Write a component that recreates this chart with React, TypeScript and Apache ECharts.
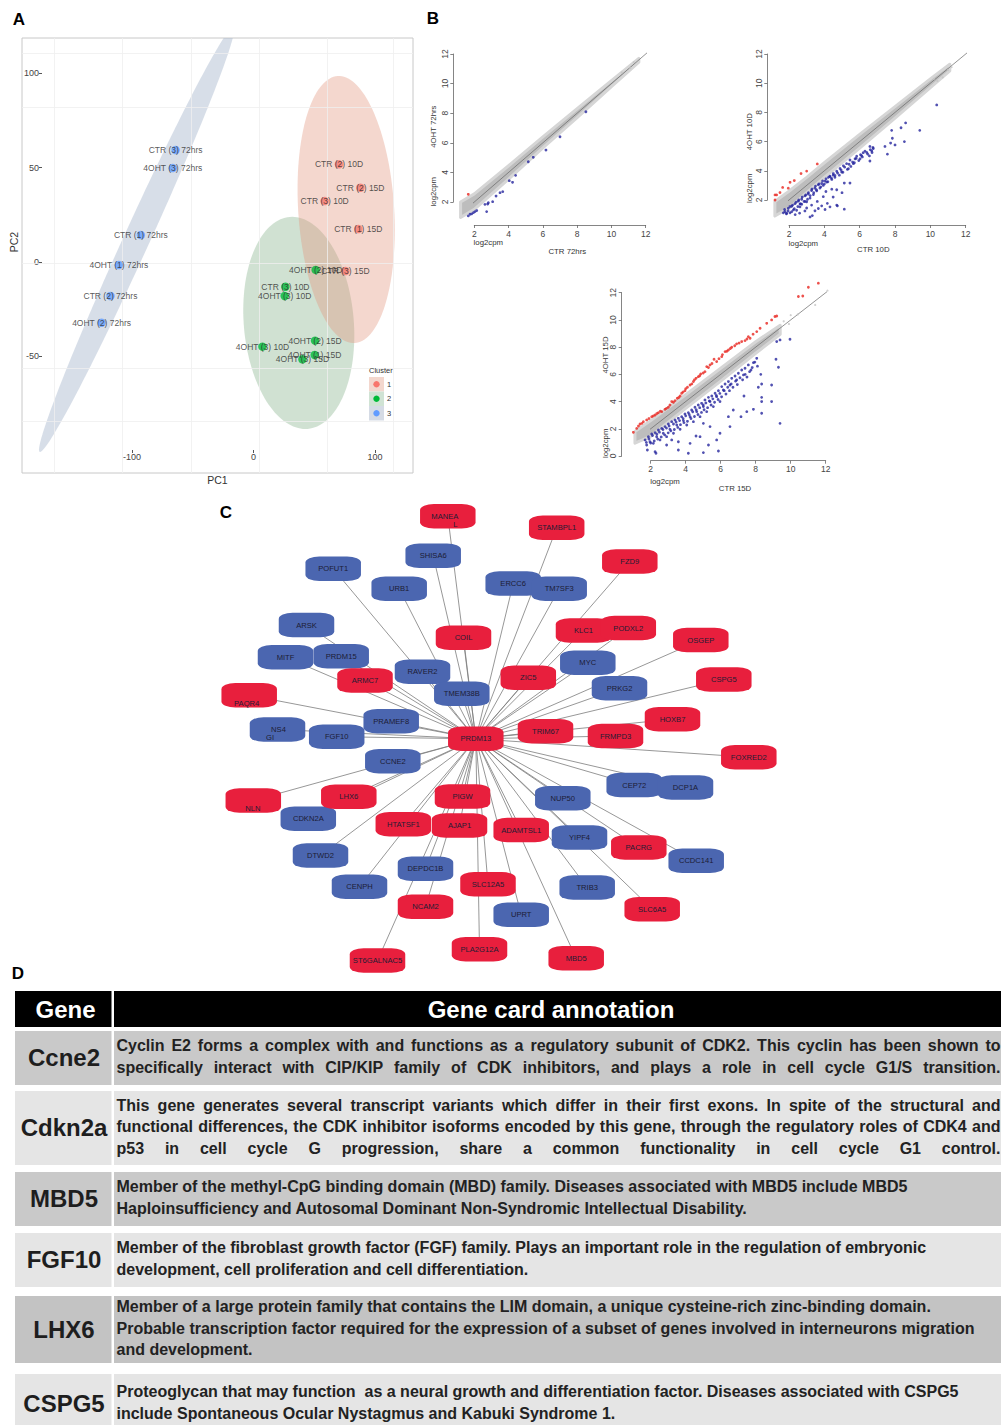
import React, { useEffect, useRef } from 'react';
import * as echarts from 'echarts';

const FONT = '"Liberation Sans", Arial, Helvetica, sans-serif';

// ---------------- Panel A : PCA ----------------
const pcaXTicks = [-100, 0, 100];
const pcaYTicks = [-50, 0, 50, 100];
const clusterColors = ['#F8766D', '#00BA38', '#619CFF'];
const c1Labels = ['CTR (2) 10D', 'CTR (2) 15D', 'CTR (3) 10D', 'CTR (1) 15D', 'CTR (3) 15D'];
const c1PC1 = [70.4, 88.0, 58.6, 86.3, 75.7];
const c1PC2 = [51.8, 39.4, 32.3, 17.5, -4.8];
const c2Labels = ['4OHT (2) 10D', 'CTR (3) 10D', '4OHT (3) 10D', '4OHT (3) 10D', '4OHT (2) 15D', '4OHT (1) 15D', '4OHT (3) 15D'];
const c2PC1 = [51.2, 26.3, 25.7, 7.4, 50.7, 50.4, 40.3];
const c2PC2 = [-4.2, -13.1, -18.0, -44.9, -41.7, -49.3, -51.6];
const c3Labels = ['CTR (3) 72hrs', '4OHT (3) 72hrs', 'CTR (1) 72hrs', '4OHT (1) 72hrs', 'CTR (2) 72hrs', '4OHT (2) 72hrs'];
const c3PC1 = [-64.1, -66.4, -92.7, -110.8, -117.7, -125.0];
const c3PC2 = [59.4, 49.8, 14.3, -1.6, -18.0, -32.2];
// ellipses: centre and two conjugate semi-axes (PC units), cluster 3, 2, 1
const ellipseCentre = [[-96.1, 12.0], [37.3, -32.3], [76.3, 27.8]];
const ellipseAxisU = [[79.8, 112.7], [-7.4, 56.2], [-7.0, 70.8]];
const ellipseAxisV = [[9.7, -2.86], [45.1, 2.47], [39.4, 1.6]];
const ellipseFills = ['rgba(160,176,200,0.42)', 'rgba(125,172,130,0.36)', 'rgba(226,150,125,0.38)'];
const pcaGridX = [-164, -107.7, -51.6, 4.6, 60.9, 114.8];
const pcaGridY = [110.7, 82.3, -0.7, -56.4, -84.7];

// ---------------- Panel B : log2cpm scatter ----------------
// 72 hrs
const b1BandX = [1.2, 2, 4, 6, 8, 10, 11.6];
const b1BandUp = [2.0, 2.55, 4.45, 6.4, 8.3, 10.2, 11.7];
const b1BandLow = [0.95, 1.5, 3.55, 5.65, 7.7, 9.8, 11.45];
const b1Down = [[8.51, 8.10], [7.0, 6.41], [6.18, 5.51], [5.44, 5.02], [5.15, 4.72], [4.41, 3.80], [4.04, 3.44], [4.23, 3.33], [3.66, 2.70], [3.5, 2.63], [3.27, 2.40], [3.07, 2.02], [2.78, 1.86], [2.62, 1.84], [2.82, 1.95], [2.72, 1.35], [2.14, 1.42], [2.04, 1.35], [1.95, 1.28], [1.75, 1.17], [1.65, 1.06], [1.85, 1.20]];
const b1Up = [[1.65, 2.52]];
const b1Grey = [[11.3, 11.45], [11.1, 11.05], [10.6, 10.75]];
const b1Diag = [0.87, 13.1];
// 10 D
const b2BandX = [1.2, 2, 3, 4, 6, 8, 10, 11.1];
const b2BandUp = [1.9, 2.6, 3.55, 4.55, 6.5, 8.4, 10.3, 11.3];
const b2BandLow = [0.9, 1.45, 2.5, 3.55, 5.55, 7.6, 9.7, 10.85];
const b2Down = [[10.36, 8.51], [9.40, 6.77], [8.6, 7.28], [8.34, 6.95], [7.81, 6.77], [8.53, 6.0], [7.85, 6.23], [7.75, 5.9], [8.0, 5.77], [7.43, 5.67], [7.57, 5.14], [6.77, 5.53], [6.68, 5.37], [6.58, 5.67], [6.55, 5.02], [6.4, 5.26], [6.58, 4.67], [6.2, 5.24], [6.11, 5.04], [5.83, 5.0], [5.74, 4.82], [5.45, 4.74], [5.26, 4.49], [5.08, 4.34], [4.89, 4.16], [4.70, 3.97], [4.51, 3.81], [4.32, 3.63], [4.23, 3.55], [4.04, 3.31], [3.85, 3.13], [3.66, 3.04], [3.47, 2.81], [3.28, 2.65], [3.09, 2.41], [2.91, 2.28], [2.72, 2.05], [2.53, 1.92], [2.34, 1.75], [2.15, 1.57], [1.96, 1.43], [1.77, 1.20], [1.68, 1.12], [1.87, 1.09], [2.06, 1.12], [2.25, 1.32], [2.43, 1.30], [2.62, 1.53], [2.72, 1.71], [2.91, 1.9], [3.19, 2.13], [3.38, 2.37], [3.57, 2.63], [3.75, 2.82], [3.94, 3.0], [4.13, 3.23], [4.42, 3.41], [4.60, 3.68], [4.98, 3.91], [5.36, 4.14], [5.64, 4.49], [6.02, 4.82], [3.19, 0.84], [3.47, 1.26], [3.66, 1.42], [4.04, 1.35], [4.32, 1.53], [4.70, 1.65], [5.13, 3.16], [5.45, 3.16], [4.74, 1.60], [5.13, 1.37], [4.17, 1.77], [3.32, 0.93], [3.0, 1.88], [3.28, 1.65], [2.62, 1.72], [4.42, 2.74], [4.70, 2.70], [3.94, 2.23], [4.09, 2.58],
  [1.75, 1.35], [1.85, 1.05], [1.95, 1.25], [2.05, 1.55], [2.15, 1.2], [2.2, 1.65], [2.3, 1.4], [2.4, 1.85], [2.5, 1.55], [2.55, 2.0], [2.65, 1.75], [2.75, 2.2], [2.85, 1.9], [2.95, 2.35], [3.05, 2.05], [3.1, 2.5], [3.2, 2.3], [3.3, 2.75], [3.4, 2.5], [3.5, 2.95], [3.55, 2.7], [3.7, 3.1], [3.8, 2.9], [3.9, 3.3], [4.0, 3.1], [4.1, 3.45], [4.2, 3.25], [4.3, 3.6], [4.4, 3.5], [4.5, 3.7], [4.6, 3.55], [4.75, 3.85], [4.85, 3.7], [4.95, 4.05], [5.05, 3.9], [5.15, 4.25], [5.3, 4.1], [5.4, 4.45], [5.5, 4.3], [5.6, 4.6], [5.7, 4.55], [5.8, 4.85], [5.95, 4.7], [6.05, 5.1], [6.15, 4.95], [6.3, 5.35], [6.45, 5.15], [6.6, 5.45], [6.7, 5.25], [6.75, 5.6], [2.6, 1.1], [3.0, 1.45], [3.6, 1.9], [3.85, 1.6], [2.35, 1.0], [2.9, 1.25], [4.5, 2.2], [5.0, 2.5]];
const b2Up = [[1.21, 2.0], [1.30, 2.35], [1.49, 2.51], [1.64, 2.86], [1.96, 2.81], [2.06, 3.21], [2.30, 3.33], [2.68, 3.81], [3.0, 3.98], [3.60, 4.47], [1.21, 2.35]];
const b2Grey = [[10.4, 10.15], [10.7, 10.4], [11.0, 10.9], [10.2, 10.3], [11.2, 11.1]];
const b2Diag = [1.2, 12.3];
// 15 D
const b3BandX = [1.1, 2, 4, 6, 8, 9.4];
const b3BandUp = [1.8, 2.6, 4.5, 6.45, 8.4, 9.6];
const b3BandLow = [0.95, 1.45, 3.5, 5.5, 7.55, 8.95];
const b3Grey = [[9.6, 9.9], [10.0, 10.35], [10.4, 10.4], [11.4, 11.1], [12.1, 12.15], [9.9, 9.7]];
const b3Up = [[1.01, 1.74], [1.2, 2.03], [1.39, 2.35], [1.58, 2.52], [1.77, 2.65], [2.06, 2.89], [2.25, 3.01], [2.44, 3.19], [2.63, 3.26], [2.82, 3.43], [3.01, 3.58], [3.2, 4.0], [3.39, 4.07], [3.52, 4.24], [3.68, 4.41], [3.77, 4.61], [3.96, 4.80], [4.10, 5.05], [4.25, 5.22], [4.44, 5.47], [4.59, 5.71], [4.72, 5.83], [4.86, 6.03], [5.10, 6.2], [5.2, 6.57], [5.39, 6.69], [5.62, 7.11], [5.77, 6.94], [6.06, 7.30], [6.25, 7.67], [6.44, 7.79], [6.63, 7.99], [6.91, 8.24], [7.2, 8.41], [7.39, 8.48], [7.58, 8.77], [7.68, 8.65], [8.06, 9.14], [8.25, 9.39], [8.63, 9.75], [8.91, 10.0], [9.10, 10.25], [9.2, 10.29], [10.44, 11.72], [10.69, 11.76], [11.01, 12.4], [11.58, 12.7],
  [1.3, 2.2], [1.5, 2.4], [1.9, 2.75], [2.15, 2.95], [2.35, 3.12], [2.55, 3.3], [2.9, 3.5], [3.1, 3.75], [3.3, 3.95], [3.6, 4.3], [3.85, 4.7], [4.0, 4.95], [4.35, 5.3], [4.5, 5.6], [4.8, 5.9], [5.0, 6.1], [5.3, 6.5], [5.5, 6.8], [5.9, 7.15], [6.1, 7.45], [6.35, 7.7], [6.55, 7.9], [6.8, 8.1], [7.05, 8.3], [7.5, 8.6], [7.85, 8.95]];
const b3Down = [[1.68, 1.18], [1.87, 1.42], [2.06, 1.62], [2.25, 1.72], [2.44, 1.91], [2.63, 2.03], [2.82, 2.16], [3.01, 2.35], [3.2, 2.52], [3.39, 2.65], [3.58, 2.77], [3.77, 2.89], [3.96, 3.09], [4.15, 3.19], [4.34, 3.38], [4.53, 3.58], [4.72, 3.75], [4.91, 3.87], [5.10, 4.12], [5.30, 4.31], [5.49, 4.41], [5.68, 4.61], [5.87, 4.80], [6.06, 5.10], [6.25, 5.29], [6.44, 5.47], [6.63, 5.71], [6.82, 5.88], [7.01, 6.08], [7.2, 6.32], [7.39, 6.45], [7.58, 6.69], [7.87, 6.86], [8.06, 7.18], [7.73, 6.32], [7.30, 5.96], [6.91, 5.59], [6.53, 5.22], [6.15, 4.85], [5.77, 4.36], [5.39, 4.0], [5.01, 3.63], [4.63, 3.26], [4.25, 2.89], [3.87, 2.60], [3.49, 2.28], [3.10, 1.96], [2.72, 1.67], [2.34, 1.42], [1.96, 1.05], [1.77, 0.81], [2.15, 0.93], [2.53, 1.18], [2.91, 1.42], [3.30, 1.67], [3.68, 1.96], [4.06, 2.28], [4.44, 2.52], [4.82, 2.89], [5.20, 3.26], [5.58, 3.63], [5.96, 4.0], [9.39, 8.53], [9.2, 8.41], [9.96, 8.58], [9.16, 7.11], [9.30, 6.52], [8.91, 5.22], [8.29, 6.0], [8.34, 5.29], [8.15, 5.05], [8.34, 4.31], [7.33, 4.41], [7.87, 3.43], [8.34, 4.0], [8.34, 3.14], [7.49, 3.26], [6.72, 3.38], [6.44, 2.89], [5.96, 1.67], [5.39, 2.16], [5.01, 2.40], [5.77, 1.18], [4.82, 1.42], [4.25, 0.93], [3.58, 0.44], [2.91, 0.81], [2.25, 0.32], [1.81, 0.44], [2.30, 0.2], [5.30, 0.81], [4.15, 0.2], [5.01, 0.25], [5.87, 0.37], [3.58, 1.05], [3.2, 1.18], [4.59, 1.47], [9.39, 2.40], [7.16, 2.89], [6.53, 2.16], [8.91, 4.0],
  [1.75, 1.0], [1.9, 1.25], [2.0, 0.95], [2.1, 1.5], [2.2, 1.1], [2.35, 1.6], [2.4, 1.25], [2.5, 1.75], [2.6, 1.4], [2.7, 1.95], [2.8, 1.55], [2.9, 2.05], [3.0, 1.7], [3.05, 2.2], [3.15, 1.85], [3.3, 2.35], [3.35, 1.95], [3.45, 2.5], [3.55, 2.1], [3.65, 2.6], [3.7, 2.3], [3.85, 2.75], [3.9, 2.45], [4.0, 2.95], [4.1, 2.55], [4.2, 3.05], [4.3, 2.75], [4.4, 3.25], [4.5, 2.9], [4.6, 3.4], [4.7, 3.05], [4.8, 3.55], [4.9, 3.2], [5.0, 3.75], [5.05, 3.4], [5.15, 3.9], [5.25, 3.55], [5.35, 4.05], [5.45, 3.75], [5.55, 4.2], [5.65, 3.95], [5.75, 4.45], [5.85, 4.15], [5.95, 4.6], [6.05, 4.35], [6.2, 4.8], [6.3, 4.55], [6.4, 5.05], [6.5, 4.8], [6.6, 5.3], [6.7, 5.05], [6.85, 5.5], [6.95, 5.25], [7.1, 5.75], [7.25, 5.6], [7.4, 6.0], [7.5, 5.8], [7.65, 6.2], [7.8, 6.5], [7.95, 6.9], [8.1, 6.6]];
const b3Diag = [1.0, 12.2];

// ---------------- Panel C : network ----------------
const hubGene = 'PRDM13';
const netGenes = ['PRDM13', 'MANEAL', 'SHISA6', 'POFUT1', 'URB1', 'ERCC6', 'TM7SF3', 'STAMBPL1', 'FZD9', 'ARSK', 'COIL', 'MITF', 'PRDM15', 'RAVER2', 'TMEM38B', 'ARMC7', 'PAQR4', 'KLC1', 'PODXL2', 'OSGEP', 'MYC', 'PRKG2', 'ZIC5', 'CSPG5', 'PRAMEF8', 'GINS4', 'FGF10', 'HOXB7', 'TRIM67', 'FRMPD3', 'FOXRED2', 'CCNE2', 'NLN', 'CDKN2A', 'LHX6', 'PIGW', 'HTATSF1', 'AJAP1', 'DTWD2', 'DEPDC1B', 'CENPH', 'SLC12A5', 'NCAM2', 'PLA2G12A', 'ST6GALNAC5', 'CEP72', 'DCP1A', 'NUP50', 'ADAMTSL1', 'YIPF4', 'PACRG', 'CCDC141', 'TRIB3', 'SLC6A5', 'UPRT', 'MBD5'];
const netLayoutX = [475.8, 447.8, 433.2, 333.2, 399.2, 513.2, 559.2, 556.7, 629.8, 306.5, 463.5, 285.5, 341.2, 422.5, 461.8, 365, 249.2, 583.5, 628.3, 700.8, 587.8, 619.5, 528.3, 723.8, 391.2, 277.5, 336.7, 672.5, 545.5, 615.5, 748.8, 392.8, 253.3, 308.3, 348.8, 462.5, 403.3, 459.5, 320.5, 425.5, 359.5, 488, 425.5, 479.5, 377.5, 634.2, 685.5, 562.8, 521.2, 579.5, 638.8, 696.2, 587.2, 652.2, 521.2, 576.2];
const netLayoutY = [738.8, 516.2, 555.8, 568.7, 588.8, 583.5, 588.8, 527.8, 561.5, 625, 637.8, 657.2, 656.2, 671.7, 693.8, 680.5, 695.3, 630.5, 628, 640, 662.8, 688.3, 677.8, 679.5, 721.2, 729.5, 736.7, 719.2, 731.2, 736, 757.2, 761.2, 800.5, 818.8, 796.7, 796.5, 824.2, 825.5, 855.5, 868.8, 886.7, 884.3, 906.7, 949.2, 960.5, 785, 787.5, 798.2, 830, 837.5, 847.5, 860.8, 887.5, 909.2, 914.8, 958.3];
const netUp = [1, 1, 0, 0, 0, 0, 0, 1, 1, 0, 1, 0, 0, 0, 0, 1, 1, 1, 1, 1, 0, 0, 1, 1, 0, 0, 0, 1, 1, 1, 1, 0, 1, 0, 1, 1, 1, 1, 0, 0, 0, 1, 1, 1, 1, 0, 0, 0, 1, 0, 1, 0, 0, 1, 0, 1];

// ---------------- Panel D : table ----------------
const tableHeader = ['Gene', 'Gene card annotation'];
const tableGenes = ['Ccne2', 'Cdkn2a', 'MBD5', 'FGF10', 'LHX6', 'CSPG5'];
const tableLines = [
  ['Cyclin E2 forms a complex with and functions as a regulatory subunit of CDK2. This cyclin has been shown to',
    'specifically interact with CIP/KIP family of CDK inhibitors, and plays a role in cell cycle G1/S transition.'],
  ['This gene generates several transcript variants which differ in their first exons. In spite of the structural and',
    'functional differences, the CDK inhibitor isoforms encoded by this gene, through the regulatory roles of CDK4 and',
    'p53 in cell cycle G progression, share a common functionality in cell cycle G1 control.'],
  ['Member of the methyl-CpG binding domain (MBD) family. Diseases associated with MBD5 include MBD5',
    'Haploinsufficiency and Autosomal Dominant Non-Syndromic Intellectual Disability.'],
  ['Member of the fibroblast growth factor (FGF) family. Plays an important role in the regulation of embryonic',
    'development, cell proliferation and cell differentiation.'],
  ['Member of a large protein family that contains the LIM domain, a unique cysteine-rich zinc-binding domain.',
    'Probable transcription factor required for the expression of a subset of genes involved in interneurons migration',
    'and development.'],
  ['Proteoglycan that may function  as a neural growth and differentiation factor. Diseases associated with CSPG5',
    'include Spontaneous Ocular Nystagmus and Kabuki Syndrome 1.'],
];
const tableJustified = [[true, true], [true, true, true], [false, false], [false, false], [false, false, false], [false, false]];

// ---------------- helpers ----------------
let measureCtx: any = null;
function measure(s: string, font: string) {
  if (!measureCtx) measureCtx = document.createElement('canvas').getContext('2d');
  measureCtx.font = font;
  return measureCtx.measureText(s).width;
}

function text(t: string, x: number, y: number, size: number, o: any = {}) {
  const style: any = {
    text: t,
    fontSize: size,
    fontFamily: FONT,
    fontWeight: o.weight || 'normal',
    fill: o.fill || '#333',
    textAlign: o.align || 'center',
    align: o.align || 'center',
    textVerticalAlign: 'middle',
    verticalAlign: 'middle',
  };
  const el: any = { type: 'text', x, y, style, silent: true, z: 10 };
  if (o.rotation) el.rotation = o.rotation;
  return el;
}

function bandSeries(gi: number, bx: number[], bu: number[], bl: number[]) {
  return {
    type: 'custom', xAxisIndex: gi, yAxisIndex: gi, clip: false, silent: true, z: 2,
    data: [[bx[0], bu[0]]],
    renderItem: (_p: any, api: any) => {
      const pts: number[][] = [];
      for (let k = 0; k < bx.length; k++) pts.push(api.coord([bx[k], bu[k]]));
      for (let k = bx.length - 1; k >= 0; k--) pts.push(api.coord([bx[k], bl[k]]));
      return { type: 'polygon', shape: { points: pts }, style: { fill: '#bdbdbd', stroke: '#d6d6d6', lineWidth: 3, lineJoin: 'round' } };
    },
  };
}

function scatterSeries(gi: number, data: number[][], color: string, size = 2.8) {
  return { type: 'scatter', xAxisIndex: gi, yAxisIndex: gi, clip: false, silent: true, z: 4, symbolSize: size, itemStyle: { color }, data };
}

function diagSeries(gi: number, ends: number[]) {
  return {
    type: 'line', xAxisIndex: gi, yAxisIndex: gi, clip: false, silent: true, z: 3, symbol: 'none',
    lineStyle: { color: '#666', width: 0.7 }, data: [[ends[0], ends[0]], [ends[1], ends[1]]],
  };
}

function bAxes(gi: number, ymin: number, xOff: number, yOff: number) {
  const common = {
    gridIndex: gi, type: 'value', max: 12, interval: 2,
    axisLine: { show: true, onZero: false, lineStyle: { color: '#666', width: 0.8 } },
    axisTick: { show: true, length: 3, lineStyle: { color: '#666', width: 0.8 } },
    splitLine: { show: false },
  };
  return {
    x: { ...common, min: 2, offset: xOff, axisLabel: { fontSize: 8.5, color: '#444', margin: 4, fontFamily: FONT } },
    y: { ...common, min: ymin, offset: yOff, axisLabel: { fontSize: 8.5, color: '#444', margin: 4, rotate: 90, fontFamily: FONT } },
  };
}

function buildOption() {
  const b1 = bAxes(1, 2, 23, 21);
  const b2 = bAxes(2, 2, 25, 21.7);
  const b3 = bAxes(3, 0, 4.7, 29);

  const pcaSeries = [
    { labels: c1Labels, x: c1PC1, y: c1PC2, color: clusterColors[0] },
    { labels: c2Labels, x: c2PC1, y: c2PC2, color: clusterColors[1] },
    { labels: c3Labels, x: c3PC1, y: c3PC2, color: clusterColors[2] },
  ].map((c) => ({
    type: 'scatter', xAxisIndex: 0, yAxisIndex: 0, z: 5, silent: true,
    symbolSize: 8.5, itemStyle: { color: c.color },
    label: { show: true, position: 'inside', formatter: '{b}', fontSize: 8.5, color: '#2b2b2b', fontFamily: FONT },
    data: c.labels.map((l, i) => ({ name: l, value: [c.x[i], c.y[i]] })),
  }));

  const nodes = netGenes.map((g, i) => {
    const item: any = {
      name: g, value: [netLayoutX[i], netLayoutY[i]],
      itemStyle: { color: netUp[i] ? '#e81f3d' : '#4b66b0' },
    };
    if (g === 'MANEAL') item.label = { formatter: 'MANEA\n          L', offset: [-3, 4.5] };
    if (g === 'GINS4') item.label = { formatter: 'NS4\nGI        ', offset: [1, 4] };
    if (g === 'PAQR4') item.label = { offset: [-2.5, 8] };
    if (g === 'NLN') item.label = { offset: [-0.5, 8] };
    return item;
  });
  const hubIndex = netGenes.indexOf(hubGene);
  const links = netGenes.map((_g, i) => ({ source: i, target: hubIndex })).filter((l) => l.source !== hubIndex);

  // ---- graphic: labels, legend, table ----
  const g: any[] = [];
  g.push(text('A', 19, 19, 17, { weight: 'bold', fill: '#000' }));
  g.push(text('B', 433, 18, 17, { weight: 'bold', fill: '#000' }));
  g.push(text('C', 226, 512, 17, { weight: 'bold', fill: '#000' }));
  g.push(text('D', 18, 973, 17, { weight: 'bold', fill: '#000' }));
  g.push(text('PC1', 217.5, 480, 10.5, { fill: '#333' }));
  g.push(text('PC2', 13.5, 242, 10.5, { fill: '#333', rotation: Math.PI / 2 }));
  // legend of panel A
  g.push(text('Cluster', 369, 370.5, 7.5, { align: 'left' }));
  const keyFill = ['#f3d7ce', '#d0e3d4', '#d5dbe5'];
  ['1', '2', '3'].forEach((k, i) => {
    const y0 = 377 + i * 14.5;
    g.push({ type: 'rect', shape: { x: 369, y: y0, width: 15, height: 14.5 }, style: { fill: keyFill[i] }, silent: true, z: 9 });
    g.push({ type: 'circle', shape: { cx: 376.5, cy: y0 + 7.2, r: 3.2 }, style: { fill: clusterColors[i] }, silent: true, z: 10 });
    g.push(text(k, 387, y0 + 7.4, 7.5, { align: 'left' }));
  });
  // panel B axis titles
  const bTitles = [
    ['4OHT 72hrs', 433.3, 126.7, 'log2cpm', 433.3, 191.7, 'log2cpm', 488.3, 242.5, 'CTR 72hrs', 567.3, 251],
    ['4OHT 10D', 749, 131.7, 'log2cpm', 749, 188.3, 'log2cpm', 803.3, 243, 'CTR 10D', 873.3, 249.3],
    ['4OHT 15D', 605, 355, 'log2cpm', 605, 443.3, 'log2cpm', 665, 481.7, 'CTR 15D', 735, 488.3],
  ];
  bTitles.forEach((t: any[]) => {
    g.push(text(t[0], t[1], t[2], 7.8, { rotation: Math.PI / 2 }));
    g.push(text(t[3], t[4], t[5], 7.8, { rotation: Math.PI / 2 }));
    g.push(text(t[6], t[7], t[8], 7.8));
    g.push(text(t[9], t[10], t[11], 7.8));
  });

  // table
  const col1 = { x: 15, w: 96.5 };
  const col2 = { x: 114, w: 887 };
  g.push({ type: 'rect', shape: { x: col1.x, y: 991, width: col1.w, height: 36 }, style: { fill: '#000' }, silent: true });
  g.push({ type: 'rect', shape: { x: col2.x, y: 991, width: col2.w, height: 36 }, style: { fill: '#000' }, silent: true });
  g.push(text(tableHeader[0], 65.5, 1009.5, 24, { weight: 'bold', fill: '#fff' }));
  g.push(text(tableHeader[1], 551, 1009.5, 24, { weight: 'bold', fill: '#fff' }));
  const rowTop = [1031, 1091, 1172, 1233, 1296, 1374];
  const rowH = [54, 74, 54, 54, 67, 60];
  const rowFill = ['#c9c9c9', '#e5e5e5', '#c9c9c9', '#e5e5e5', '#c3c3c3', '#e5e5e5'];
  const descFont = `bold 16px ${FONT}`;
  const left = 116.5, right = 1000.5, lh = 21.5;
  tableGenes.forEach((gene, r) => {
    g.push({ type: 'rect', shape: { x: col1.x, y: rowTop[r], width: col1.w, height: rowH[r] }, style: { fill: rowFill[r] }, silent: true });
    g.push({ type: 'rect', shape: { x: col2.x, y: rowTop[r], width: col2.w, height: rowH[r] }, style: { fill: rowFill[r] }, silent: true });
    const cy = rowTop[r] + rowH[r] / 2 - 1.5;
    g.push(text(gene, 64, cy + 1, 24, { weight: 'bold', fill: '#1e1e1e' }));
    const lines = tableLines[r];
    lines.forEach((line, k) => {
      const y = cy + (k - (lines.length - 1) / 2) * lh;
      if (tableJustified[r][k]) {
        const words = line.split(' ').filter((w) => w.length);
        const ws = words.map((w) => measure(w, descFont));
        const tot = ws.reduce((a, b) => a + b, 0);
        const gap = (right - left - tot) / (words.length - 1);
        let x = left;
        words.forEach((w, j) => {
          g.push(text(w, x, y, 16, { weight: 'bold', fill: '#222', align: 'left' }));
          x += ws[j] + gap;
        });
      } else {
        g.push(text(line, left, y, 16, { weight: 'bold', fill: '#222', align: 'left' }));
      }
    });
  });

  return {
    animation: false,
    backgroundColor: '#fff',
    grid: [
      { left: 22, top: 38, width: 391, height: 435, show: true, borderColor: '#c8c8c8', borderWidth: 1, backgroundColor: '#fff', outerBoundsMode: 'none' },
      { left: 474.3, top: 54, width: 171.4, height: 148, outerBoundsMode: 'none' },
      { left: 789, top: 54, width: 176.7, height: 146, outerBoundsMode: 'none' },
      { left: 650.7, top: 292.7, width: 175, height: 163.3, outerBoundsMode: 'none' },
      { left: 0, top: 0, width: 1001, height: 1425, outerBoundsMode: 'none' },
    ],
    xAxis: [
      {
        gridIndex: 0, type: 'value', min: -190.5, max: 131.3, offset: -23,
        axisLine: { show: false, onZero: false },
        axisTick: { show: true, length: 3, customValues: pcaXTicks, lineStyle: { color: '#555' } },
        axisLabel: { customValues: pcaXTicks, fontSize: 9, color: '#444', margin: 2, fontFamily: FONT },
        splitLine: { show: false },
      },
      b1.x, b2.x, b3.x,
      { gridIndex: 4, type: 'value', min: 0, max: 1001, show: false },
    ],
    yAxis: [
      {
        gridIndex: 0, type: 'value', min: -111.9, max: 118.8, offset: -20,
        axisLine: { show: false, onZero: false },
        axisTick: { show: true, length: 3, customValues: pcaYTicks, lineStyle: { color: '#555' } },
        axisLabel: { customValues: pcaYTicks, fontSize: 9, color: '#444', margin: 3, fontFamily: FONT },
        splitLine: { show: false },
      },
      b1.y, b2.y, b3.y,
      { gridIndex: 4, type: 'value', min: 0, max: 1425, inverse: true, show: false },
    ],
    series: [
      {
        type: 'scatter', xAxisIndex: 0, yAxisIndex: 0, z: 1, silent: true, symbolSize: 0,
        data: [[0, 0]],
        markLine: {
          silent: true, symbol: 'none', label: { show: false },
          lineStyle: { color: '#efefef', width: 0.8, type: 'solid' },
          data: [...pcaGridX.map((v) => ({ xAxis: v })), ...pcaGridY.map((v) => ({ yAxis: v }))],
        },
      },
      {
        type: 'custom', xAxisIndex: 0, yAxisIndex: 0, clip: true, silent: true, z: 2,
        data: ellipseCentre.map((c, i) => [c[0], c[1], i]),
        renderItem: (params: any, api: any) => {
          const i = params.dataIndex;
          const c = ellipseCentre[i], u = ellipseAxisU[i], v = ellipseAxisV[i];
          const pts: number[][] = [];
          for (let k = 0; k < 144; k++) {
            const t = (k / 144) * Math.PI * 2;
            pts.push(api.coord([c[0] + Math.cos(t) * u[0] + Math.sin(t) * v[0], c[1] + Math.cos(t) * u[1] + Math.sin(t) * v[1]]));
          }
          return { type: 'polygon', shape: { points: pts }, style: { fill: ellipseFills[i] } };
        },
      },
      ...pcaSeries,
      // B1
      bandSeries(1, b1BandX, b1BandUp, b1BandLow), diagSeries(1, b1Diag),
      scatterSeries(1, b1Grey, '#c4c4c4', 2.2),
      scatterSeries(1, b1Down, '#25259e'), scatterSeries(1, b1Up, '#e8261f'),
      // B2
      bandSeries(2, b2BandX, b2BandUp, b2BandLow), diagSeries(2, b2Diag),
      scatterSeries(2, b2Grey, '#c4c4c4', 2.2),
      scatterSeries(2, b2Down, '#25259e'), scatterSeries(2, b2Up, '#e8261f'),
      // B3
      bandSeries(3, b3BandX, b3BandUp, b3BandLow), diagSeries(3, b3Diag),
      scatterSeries(3, b3Grey, '#c4c4c4', 2.2),
      scatterSeries(3, b3Down, '#25259e'), scatterSeries(3, b3Up, '#e8261f'),
      // C network
      {
        type: 'graph', coordinateSystem: 'cartesian2d', xAxisIndex: 4, yAxisIndex: 4, silent: true, z: 6,
        symbol: 'roundRect', symbolSize: [55.5, 24.5],
        label: { show: true, position: 'inside', fontSize: 7.6, color: '#1c1c34', fontFamily: FONT, lineHeight: 8.5 },
        lineStyle: { color: '#7c7c7c', width: 0.8, opacity: 1, curveness: 0 },
        edgeSymbol: ['none', 'none'],
        data: nodes,
        links,
      },
    ],
    graphic: { elements: g },
  };
}

const App = () => {
  const ref = useRef<HTMLDivElement>(null);
  useEffect(() => {
    const chart = echarts.init(ref.current as HTMLDivElement, null, { renderer: 'svg' });
    chart.setOption(buildOption() as any);
    return () => chart.dispose();
  }, []);
  return <div ref={ref} style={{ position: 'absolute', left: 0, top: 0, width: 1001, height: 1425, background: '#fff' }} />;
};

export default App;
